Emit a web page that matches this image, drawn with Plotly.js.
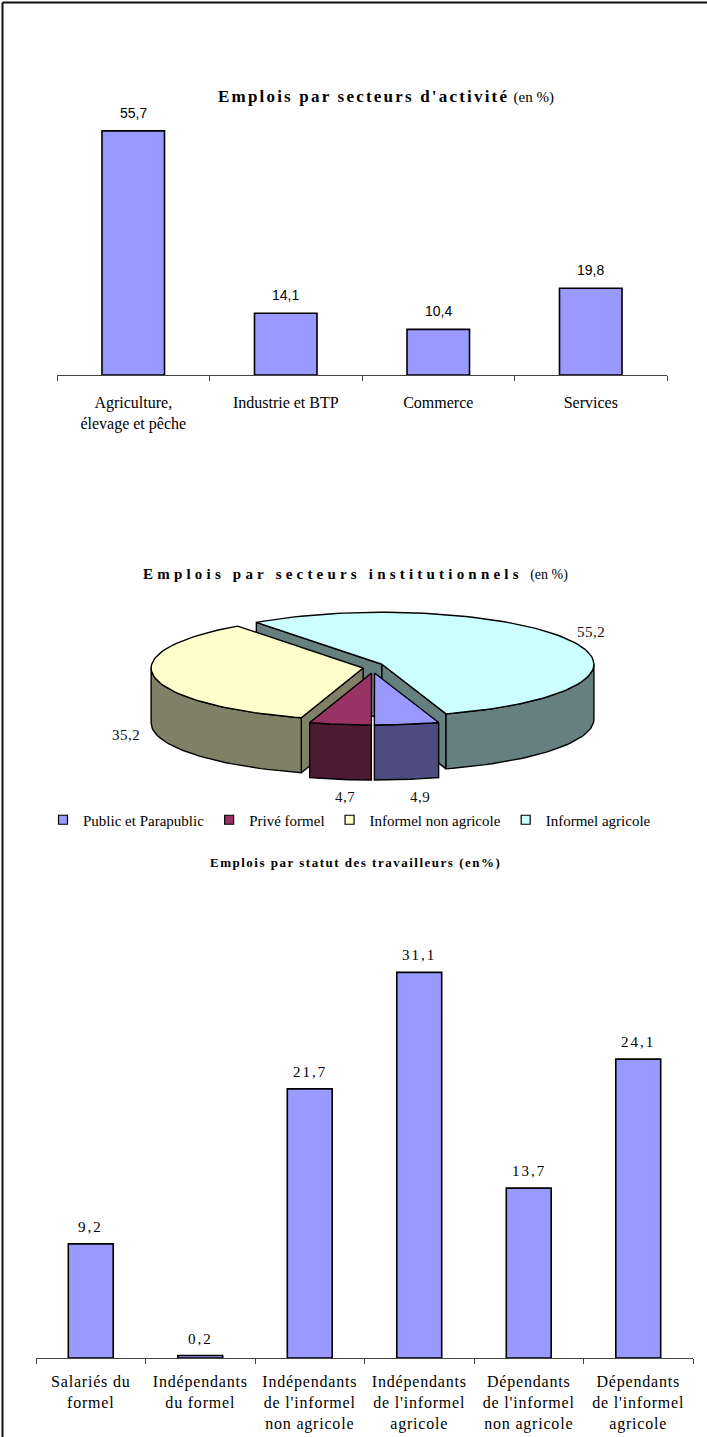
<!DOCTYPE html>
<html><head><meta charset="utf-8">
<script src="https://cdn.plot.ly/plotly-3.0.1.min.js"></script>
<style>html,body{margin:0;padding:0;background:#fff;} #chart{width:707px;height:1437px;}</style>
</head><body><div id="chart"></div>
<script>
// ---------- DATA ----------
const activiteCategories = ["Agriculture,<br>élevage et pêche", "Industrie et BTP", "Commerce", "Services"];
const activiteValeurs = [55.7, 14.1, 10.4, 19.8];

const institLabels = ["Public et Parapublic", "Privé formel", "Informel non agricole", "Informel agricole"];
const institValeurs = [4.9, 4.7, 35.2, 55.2];

const statutCategories = ["Salariés du<br>formel", "Indépendants<br>du formel", "Indépendants<br>de l'informel<br>non agricole", "Indépendants<br>de l'informel<br>agricole", "Dépendants<br>de l'informel<br>non agricole", "Dépendants<br>de l'informel<br>agricole"];
const statutValeurs = [9.2, 0.2, 21.7, 31.1, 13.7, 24.1];

// ---------- STYLE ----------
const W = 707, H = 1437;
const BAR_COLOR = '#9999FF';
const TOP_COLORS = ['#9999FF', '#993366', '#FFFFCC', '#CCFFFF'];
const SIDE_COLORS = ['#4C4C80', '#4C1A33', '#808066', '#668080'];
const SERIF = '"Liberation Serif", "Times New Roman", serif';
const SANS = '"Liberation Sans", Arial, sans-serif';
const PIE = {cx: 373, cy: 667, rx: 212, ry: 52, depth: 55, ex: 10, ey: 6, rotation: 162.4};

function py(p) { return 1 - p / H; }
function fmt(v) { return v.toFixed(1).replace('.', ','); }
function spaced(s, ls) { return s.split('<br>').map(l => '<span style="letter-spacing:' + ls + 'px">' + l + '</span>').join('<br>'); }

const traces = [];

// Chart 1 bars
traces.push({type: 'bar', x: activiteCategories, y: activiteValeurs, xaxis: 'x', yaxis: 'y',
  marker: {color: BAR_COLOR, line: {color: '#000', width: 1.6}}, hoverinfo: 'skip', showlegend: false});

// Chart 3 bars
traces.push({type: 'bar', x: statutCategories, y: statutValeurs, xaxis: 'x2', yaxis: 'y2',
  marker: {color: BAR_COLOR, line: {color: '#000', width: 1.6}}, hoverinfo: 'skip', showlegend: false});

// ---------- 3D pie built from values ----------
const total = institValeurs.reduce((a, b) => a + b, 0);
const rad = d => d * Math.PI / 180;
function rim(cx, cy, a, dz) { return [cx + PIE.rx * Math.sin(rad(a)), cy - PIE.ry * Math.cos(rad(a)) + (dz || 0)]; }
function poly(pts, fill) {
  const xs = pts.map(p => p[0]), ys = pts.map(p => p[1]);
  xs.push(xs[0]); ys.push(ys[0]);
  return {type: 'scatter', mode: 'lines', x: xs, y: ys, xaxis: 'x3', yaxis: 'y3', fill: 'toself',
    fillcolor: fill, line: {color: '#000', width: 1.4}, hoverinfo: 'skip', showlegend: false};
}
function arc(cx, cy, a0, a1, dz) {
  const pts = []; const n = Math.max(2, Math.ceil(Math.abs(a1 - a0) / 2));
  for (let i = 0; i <= n; i++) pts.push(rim(cx, cy, a0 + (a1 - a0) * i / n, dz));
  return pts;
}
const slices = [];
let cum = 0;
institValeurs.forEach((v, i) => {
  const a0 = PIE.rotation + 360 * cum / total;
  const a1 = a0 + 360 * v / total;
  cum += v;
  const m = (a0 + a1) / 2;
  slices.push({i, v, a0, a1, m, cx: PIE.cx + PIE.ex * Math.sin(rad(m)), cy: PIE.cy - PIE.ey * Math.cos(rad(m))});
});
const order = slices.slice().sort((a, b) => (-Math.cos(rad(a.m))) - (-Math.cos(rad(b.m))));
const pieAnn = [];
order.forEach(s => {
  const D = PIE.depth;
  const C = [s.cx, s.cy], Cb = [s.cx, s.cy + D];
  if (-Math.cos(rad(s.a0 - 90)) > 0.001) traces.push(poly([C, rim(s.cx, s.cy, s.a0), rim(s.cx, s.cy, s.a0, D), Cb], SIDE_COLORS[s.i]));
  if (-Math.cos(rad(s.a1 + 90)) > 0.001) traces.push(poly([C, rim(s.cx, s.cy, s.a1), rim(s.cx, s.cy, s.a1, D), Cb], SIDE_COLORS[s.i]));
  for (let k = -1; k <= 2; k++) {
    const lo = Math.max(s.a0, 90 + 360 * k), hi = Math.min(s.a1, 270 + 360 * k);
    if (hi > lo) {
      const top = arc(s.cx, s.cy, lo, hi, 0), bot = arc(s.cx, s.cy, hi, lo, D);
      traces.push(poly(top.concat(bot), SIDE_COLORS[s.i]));
    }
  }
  traces.push(poly([C].concat(arc(s.cx, s.cy, s.a0, s.a1, 0)), TOP_COLORS[s.i]));
});
slices.forEach(s => {
  const front = -Math.cos(rad(s.m));
  pieAnn.push({xref: 'x3', yref: 'y3', x: s.cx + Math.sin(rad(s.m)) * PIE.rx * 1.12 + (front > 0.9 ? 9 : -3),
    y: s.cy - Math.cos(rad(s.m)) * PIE.ry * 1.35 + (front > 0 ? PIE.depth : 0),
    text: '<span style="letter-spacing:0.5px">' + fmt(s.v) + '</span>', showarrow: false,
    font: {family: SERIF, size: 15, color: '#111'}, xanchor: 'center', yanchor: 'middle'});
});
institLabels.forEach((lab, i) => {
  traces.push({type: 'scatter', mode: 'markers', x: [null], y: [null], xaxis: 'x3', yaxis: 'y3', name: lab,
    marker: {symbol: 'square', size: 9, color: TOP_COLORS[i], line: {color: '#000', width: 1.2}}, hoverinfo: 'skip'});
});

// ---------- annotations ----------
const ann = [];
activiteCategories.forEach((c, i) => ann.push({xref: 'x', yref: 'y', x: c, y: activiteValeurs[i], yshift: 18,
  text: fmt(activiteValeurs[i]), showarrow: false, font: {family: SANS, size: 14, color: '#000'}, yanchor: 'middle'}));
statutCategories.forEach((c, i) => ann.push({xref: 'x2', yref: 'y2', x: c, y: statutValeurs[i], yshift: 17,
  text: '<span style="letter-spacing:2px">' + fmt(statutValeurs[i]) + '</span>', showarrow: false,
  font: {family: SERIF, size: 15, color: '#000'}, yanchor: 'middle'}));
ann.push({xref: 'paper', yref: 'paper', x: 386 / W, y: py(97), xanchor: 'center', yanchor: 'middle', showarrow: false,
  text: '<b><span style="letter-spacing:2.2px">Emplois par secteurs d\'activité</span></b> <span style="font-size:15px">(en %)</span>', font: {family: SERIF, size: 17, color: '#000'}});
ann.push({xref: 'paper', yref: 'paper', x: 356 / W, y: py(574), xanchor: 'center', yanchor: 'middle', showarrow: false,
  text: '<b><span style="letter-spacing:4.2px">Emplois par secteurs institutionnels</span></b>  <span style="font-size:14px">(en %)</span>', font: {family: SERIF, size: 15, color: '#000'}});
ann.push({xref: 'paper', yref: 'paper', x: 355 / W, y: py(862), xanchor: 'center', yanchor: 'middle', showarrow: false,
  text: '<b><span style="letter-spacing:1.5px">Emplois par statut des travailleurs (en%)</span></b>', font: {family: SERIF, size: 13, color: '#000'}});

const axisX = {type: 'category', tickson: 'boundaries', ticks: 'outside', ticklen: 5, tickcolor: '#444', tickwidth: 1,
  showline: true, linecolor: '#444', linewidth: 1, showgrid: false, zeroline: false, fixedrange: true};

const layout = {
  width: W, height: H, margin: {l: 0, r: 0, t: 0, b: 0},
  paper_bgcolor: '#fff', plot_bgcolor: 'rgba(0,0,0,0)',
  bargap: 0.59, showlegend: true,
  legend: {orientation: 'h', x: 43 / W, y: py(820), xanchor: 'left', yanchor: 'middle',
    font: {family: SERIF, size: 15, color: '#000'}, itemwidth: 30, bgcolor: 'rgba(0,0,0,0)', traceorder: 'normal'},
  xaxis: Object.assign({}, axisX, {domain: [57 / W, 667 / W], anchor: 'y',
    tickfont: {family: SERIF, size: 16, color: '#000'}, ticklabelstandoff: 13}),
  yaxis: {domain: [py(375), py(112)], range: [0, 60], visible: false, fixedrange: true, anchor: 'x'},
  xaxis2: Object.assign({}, axisX, {domain: [36 / W, 693 / W], anchor: 'y2',
    tickvals: statutCategories, ticktext: statutCategories.map(c => spaced(c, 0.8)),
    tickfont: {family: SERIF, size: 16, color: '#000'}, ticklabelstandoff: 9}),
  yaxis2: {domain: [py(1358), py(1358 - 33 * 12.4)], range: [0, 33], visible: false, fixedrange: true, anchor: 'x2'},
  xaxis3: {domain: [0, 1], range: [0, W], visible: false, fixedrange: true, anchor: 'y3'},
  yaxis3: {domain: [0, 1], range: [H, 0], visible: false, fixedrange: true, anchor: 'x3'},
  annotations: ann.concat(pieAnn),
  shapes: [
    {type: 'line', xref: 'paper', yref: 'paper', x0: 2.5 / W, x1: 1, y0: py(2.5), y1: py(2.5), line: {color: '#111', width: 2}},
    {type: 'line', xref: 'paper', yref: 'paper', x0: 2.5 / W, x1: 2.5 / W, y0: 0, y1: py(2.5), line: {color: '#111', width: 2}}
  ]
};
Plotly.newPlot('chart', traces, layout, {staticPlot: true, displayModeBar: false});
</script></body></html>
